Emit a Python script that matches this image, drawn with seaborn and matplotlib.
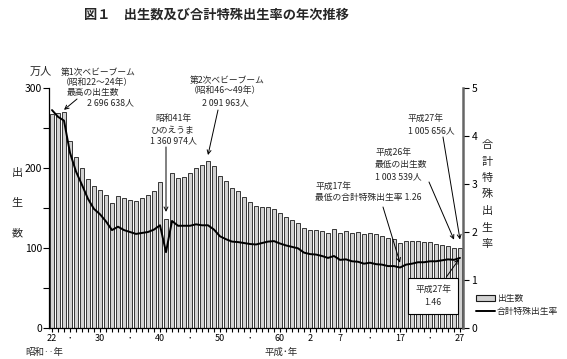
import numpy as np
import pandas as pd
import matplotlib
matplotlib.use("Agg")
import matplotlib.pyplot as plt
from matplotlib.patches import Patch
from matplotlib.lines import Line2D
import seaborn as sns

# ---- data ----
years = list(range(1947, 2016))
births = [267.9, 268.2, 269.7, 233.8, 213.8, 200.5, 186.8, 177.0, 173.1, 166.5,
          156.7, 165.3, 162.6, 160.6, 158.9, 161.9, 166.0, 171.7, 182.4, 136.1,
          193.6, 187.2, 188.9, 193.4, 200.1, 203.9, 209.2, 203.0, 190.1, 183.3,
          175.5, 170.9, 164.3, 157.7, 152.9, 151.5, 150.9, 149.0, 143.2, 138.3,
          134.7, 131.4, 124.7, 122.2, 122.3, 120.9, 118.8, 123.8, 118.7, 120.7,
          119.2, 120.3, 117.8, 119.1, 117.1, 115.4, 112.4, 111.1, 106.3, 109.3,
          109.0, 109.1, 107.0, 107.1, 105.1, 103.7, 103.0, 100.4, 100.6]
tfr = [4.54, 4.40, 4.32, 3.65, 3.26, 2.98, 2.69, 2.48, 2.37, 2.22,
       2.04, 2.11, 2.04, 2.00, 1.96, 1.98, 2.00, 2.05, 2.14, 1.58,
       2.23, 2.13, 2.13, 2.13, 2.16, 2.14, 2.14, 2.05, 1.91, 1.85,
       1.80, 1.79, 1.77, 1.75, 1.74, 1.77, 1.80, 1.81, 1.76, 1.72,
       1.69, 1.66, 1.57, 1.54, 1.53, 1.50, 1.46, 1.50, 1.42, 1.43,
       1.39, 1.38, 1.34, 1.36, 1.33, 1.32, 1.29, 1.29, 1.26, 1.32,
       1.34, 1.37, 1.37, 1.39, 1.39, 1.41, 1.43, 1.42, 1.46]
tick_years = [1947, 1950, 1955, 1960, 1965, 1970, 1975, 1980, 1985,
              1990, 1995, 2000, 2005, 2010, 2015]
tick_labels = ['22', '･', '30', '･', '40', '･', '50', '･', '60',
               '2', '7', '･', '17', '･', '27']
left_ticks = [0, 100, 200, 300]
right_ticks = [0, 1, 2, 3, 4, 5]

sns.set_theme(style="white")
plt.rcParams['font.family'] = ['Noto Sans CJK JP', 'DejaVu Sans']

W, H = 567, 359
fig = plt.figure(figsize=(W / 100, H / 100), dpi=100)
ax = fig.add_axes([49 / W, 31 / H, 414 / W, 240 / H])

df = pd.DataFrame({'year': years, 'births': births, 'tfr': tfr})
sns.barplot(data=df, x='year', y='births', ax=ax, color='#d2d2d2',
            saturation=1, edgecolor='#1a1a1a', linewidth=0.6, width=0.68)
ax.set_xlim(-0.5, len(years) - 0.5)
ax.set_ylim(0, 300)
ax.set_xlabel('')
ax.set_ylabel('')
ax.set_yticks(left_ticks)
ax.set_yticks([50, 150, 250], minor=True)
ax.set_xticks([years.index(y) for y in tick_years])
ax.set_xticklabels(tick_labels)
ax.set_xticks(range(len(years)), minor=True)
ax.tick_params(axis='y', which='both', direction='out', length=4, width=0.8,
               colors='black', labelsize=7.5, pad=1, left=True)
ax.tick_params(axis='x', which='both', direction='out', length=3, width=0.8,
               colors='black', labelsize=6.5, pad=1, bottom=True)
for s in ['top', 'right']:
    ax.spines[s].set_visible(False)
for s in ['left', 'bottom']:
    ax.spines[s].set_color('black')
    ax.spines[s].set_linewidth(0.9)

ax2 = ax.twinx()
sns.lineplot(x=np.arange(len(years)), y=tfr, ax=ax2, color='black', linewidth=1.4)
ax2.set_ylim(0, 5)
ax2.set_xlim(-0.5, len(years) - 0.5)
ax2.set_yticks(right_ticks)
ax2.set_ylabel('')
ax2.tick_params(axis='y', direction='out', length=4, width=0.8, colors='black',
                labelsize=7.5, pad=2, right=True)
for s in ['top', 'left', 'bottom']:
    ax2.spines[s].set_visible(False)
ax2.spines['right'].set_color('#666666')
ax2.spines['right'].set_linewidth(1.8)
ax2.grid(False)
ax.grid(False)


def ftxt(x, y, s, ha='center', size=6.3, **kw):
    fig.text(x / W, 1 - y / H, s, ha=ha, va='center', fontsize=size, **kw)


# title and axis texts
ftxt(217, 15, '図１　出生数及び合計特殊出生率の年次推移', size=9.5, weight='bold')
ftxt(41, 72, '万人', size=8)
for i, c in enumerate('出生数'):
    ftxt(17, 173 + i * 30, c, size=8)
for i, c in enumerate('合計特殊出生率'):
    ftxt(487, 145 + i * 16.5, c, size=8)
ftxt(44, 352, '昭和‥年', size=6.8)
ftxt(281, 352, '平成･年', size=6.8)

# annotations
ftxt(98, 72, '第1次ベビーブーム')
ftxt(97, 82, '（昭和22～24年）')
ftxt(93, 92, '最高の出生数')
ftxt(110, 103, '2 696 638人')
ftxt(227, 80, '第2次ベビーブーム')
ftxt(225, 91, '（昭和46～49年）')
ftxt(225, 103, '2 091 963人')
ftxt(173, 119, '昭和41年')
ftxt(172, 130, 'ひのえうま')
ftxt(173, 141, '1 360 974人')
ftxt(315, 186, '平成17年', ha='left')
ftxt(315, 197, '最低の合計特殊出生率 1.26', ha='left')
ftxt(375, 152, '平成26年', ha='left')
ftxt(375, 165, '最低の出生数', ha='left')
ftxt(375, 177, '1 003 539人', ha='left')
ftxt(407, 118, '平成27年', ha='left')
ftxt(408, 131, '1 005 656人', ha='left')

arrow = dict(arrowstyle='->', color='black', lw=0.7, shrinkA=0, shrinkB=0,
             mutation_scale=7)


def arr(axx, i, val, x0, y0):
    axx.annotate('', xy=(i, val), xycoords='data', xytext=(x0, H - y0),
                 textcoords='figure pixels', arrowprops=arrow)


i49 = years.index(1949)
arr(ax, i49, births[i49] + 3, 77, 99)
i73 = years.index(1973)
arr(ax, i73, births[i73] + 7, 218, 110)
i66 = years.index(1966)
arr(ax, i66, births[i66] + 9, 166, 147)
i05 = years.index(2005)
arr(ax2, i05, tfr[i05] + 0.1, 383, 207)
i14 = years.index(2014)
arr(ax, i14, births[i14] + 10, 429, 182)
i15 = years.index(2015)
arr(ax, i15, births[i15] + 10, 443, 137)

ax2.annotate('平成27年\n1.46', xy=(i15, tfr[i15]), xycoords='data',
             xytext=(433, H - 296), textcoords='figure pixels',
             ha='center', va='center', fontsize=6.3, linespacing=1.7,
             bbox=dict(boxstyle='square,pad=0.8', fc='white', ec='black', lw=0.8),
             arrowprops=dict(arrowstyle='->', color='black', lw=0.7,
                             shrinkA=0, shrinkB=1, mutation_scale=7,
                             relpos=(0.72, 1.0)))

handles = [Patch(facecolor='#d2d2d2', edgecolor='#1a1a1a', linewidth=0.8),
           Line2D([0], [0], color='black', linewidth=1.4)]
fig.legend(handles, ['出生数', '合計特殊出生率'], loc='upper left',
           bbox_to_anchor=(476 / W, 1 - 294 / H), frameon=False,
           fontsize=6.3, handlelength=2.2, handleheight=0.6,
           handletextpad=0.2, labelspacing=0.5, borderpad=0, borderaxespad=0)

fig.savefig('out.png', dpi=100)
